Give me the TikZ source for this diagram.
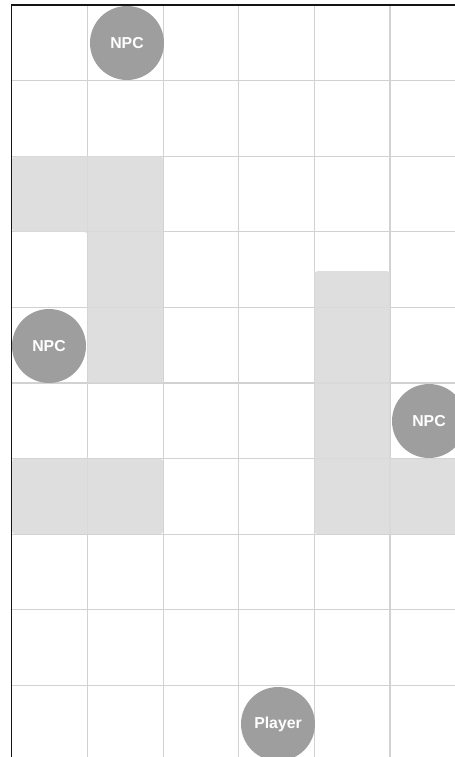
\documentclass[tikz,border=0pt]{standalone}
\usepackage{fontspec}
\setmainfont{Liberation Sans}
\usetikzlibrary{positioning}
\definecolor{gridclr}{RGB}{210,210,210}
\definecolor{wallclr}{RGB}{218,218,218}
\definecolor{agentclr}{RGB}{158,158,158}
\definecolor{frameclr}{RGB}{20,20,20}
\tikzset{
  %% grid lines
  gline/.style={draw=gridclr,line width=0.6pt},
  %% blocked cells
  wall/.style={fill=wallclr,rounded corners=2pt,fill opacity=0.88},
  %% npc / player token
  agent/.style={circle,fill=agentclr,minimum size=1.48cm,inner sep=0pt,
    font=\fontsize{9}{10}\selectfont\bfseries,text=white},
  %% outer frame
  frame/.style={draw=frameclr,line width=1.1pt},
}
\begin{document}
\begin{tikzpicture}[x=0.02cm,y=-0.02cm]
  \useasboundingbox (0,0) rectangle (455,757);
  \clip (0,0) rectangle (455,757);
  \fill[white] (0,0) rectangle (455,757);
  %% grid
  \foreach \i in {1,...,5}
    \draw[gline] ({12+75.6*\i},5) -- ({12+75.6*\i},757);
  \foreach \j in {1,...,9}
    \draw[gline] (12,{5+75.6*\j}) -- (455,{5+75.6*\j});
  %% walls
  \fill[wall] (12,156.2) -- (163.2,156.2) -- (163.2,383) -- (87.6,383)
    -- (87.6,231.8) -- (12,231.8) -- cycle;
  \fill[wall] (12,458.6) rectangle (163.2,534.2);
  \fill[wall] (314.4,271) -- (390,271) -- (390,458.6) -- (470,458.6)
    -- (470,534.2) -- (314.4,534.2) -- cycle;
  %% frame
  \draw[frame] (11.5,757) -- (11.5,5) -- (455,5);
  %% tokens
  \node[agent] (npcA) at (127,43) {NPC};
  \node[agent] (npcB) at (49,346) {NPC};
  \node[agent] (npcC) at (429,421) {NPC};
  \node[agent] (player) at (278,724) {Player};
\end{tikzpicture}
\end{document}
